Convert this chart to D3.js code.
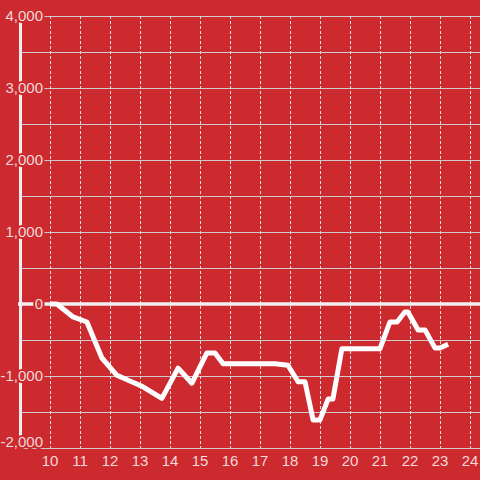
<!DOCTYPE html>
<html><head><meta charset="utf-8">
<script src="https://cdn.jsdelivr.net/npm/d3@7"></script>
<style>html,body{margin:0;padding:0;background:#cc2a2f;}svg{display:block;}</style>
</head><body>
<svg id="c" width="480" height="480"></svg>
<script>
const hours = [10, 10.23, 10.77, 11.23, 11.73, 12.23, 13.1, 13.73, 14.27, 14.73, 15.23, 15.5, 15.77, 17.5, 17.93, 18.27, 18.5, 18.77, 19.0, 19.27, 19.43, 19.73, 21.0, 21.33, 21.57, 21.83, 21.93, 22.27, 22.5, 22.83, 23.0, 23.27];
const values = [0, 0, -180, -250, -750, -990, -1150, -1310, -890, -1100, -680, -680, -830, -830, -850, -1080, -1080, -1610, -1610, -1320, -1320, -620, -620, -250, -250, -110, -110, -360, -360, -610, -610, -560];
const xTicks = [10, 11, 12, 13, 14, 15, 16, 17, 18, 19, 20, 21, 22, 23, 24];
const yTicks = [-2000, -1000, 0, 1000, 2000, 3000, 4000];
const yGrid = [-2000, -1500, -1000, -500, 0, 500, 1000, 1500, 2000, 2500, 3000, 3500, 4000];

const svg = d3.select("#c");
const x = d3.scaleLinear().domain([9, 24.3333]).range([20, 480]);
const y = d3.scaleLinear().domain([-2000, 4000]).range([448, 16]);
const fmt = d3.format(",");
const bg = "#cc2a2f";
const font = "'Liberation Sans', Arial, sans-serif";

// horizontal grid
svg.append("g").selectAll("line").data(yGrid.filter(d => d !== 0)).join("line")
  .attr("x1", x(9)).attr("x2", 480)
  .attr("y1", d => Math.round(y(d)) + 0.5).attr("y2", d => Math.round(y(d)) + 0.5)
  .attr("stroke", "#cccccc").attr("stroke-width", 1);

// vertical dashed grid
svg.append("g").selectAll("line").data(xTicks).join("line")
  .attr("x1", d => Math.round(x(d)) + 0.5).attr("x2", d => Math.round(x(d)) + 0.5)
  .attr("y1", y(4000)).attr("y2", y(-2000))
  .attr("stroke", "#e0e0e0").attr("stroke-width", 1).attr("stroke-dasharray", "3,2");

// zero line
svg.append("line").attr("x1", 18).attr("x2", 480).attr("y1", y(0)).attr("y2", y(0))
  .attr("stroke", "#f0f0f0").attr("stroke-width", 3.5);

// y axis bar
svg.append("line").attr("x1", x(9) + 0.5).attr("x2", x(9) + 0.5).attr("y1", y(4000)).attr("y2", y(-2000))
  .attr("stroke", "#f0f0f0").attr("stroke-width", 3);

// data line
const line = d3.line().x((d, i) => x(hours[i])).y(d => y(d));
svg.append("path").datum(values).attr("d", line)
  .attr("fill", "none").attr("stroke", "#ffffff").attr("stroke-width", 5)
  .attr("stroke-linejoin", "round");

// y labels
svg.append("g").selectAll("text").data(yTicks).join("text")
  .attr("x", 43).attr("y", d => y(d) + (d === -2000 ? -6 : 0))
  .attr("dy", "0.35em").attr("text-anchor", "end")
  .attr("font-family", font).attr("font-size", 15)
  .attr("fill", "#f5d8d8").attr("stroke", bg).attr("stroke-width", 4)
  .attr("stroke-linejoin", "round")
  .attr("paint-order", "stroke")
  .text(d => fmt(d).replace("−", "-"));

// x labels
svg.append("g").selectAll("text").data(xTicks).join("text")
  .attr("x", d => x(d)).attr("y", 466).attr("text-anchor", "middle")
  .attr("font-family", font).attr("font-size", 15)
  .attr("fill", "#f5d8d8")
  .text(d => d);
</script>
</body></html>
